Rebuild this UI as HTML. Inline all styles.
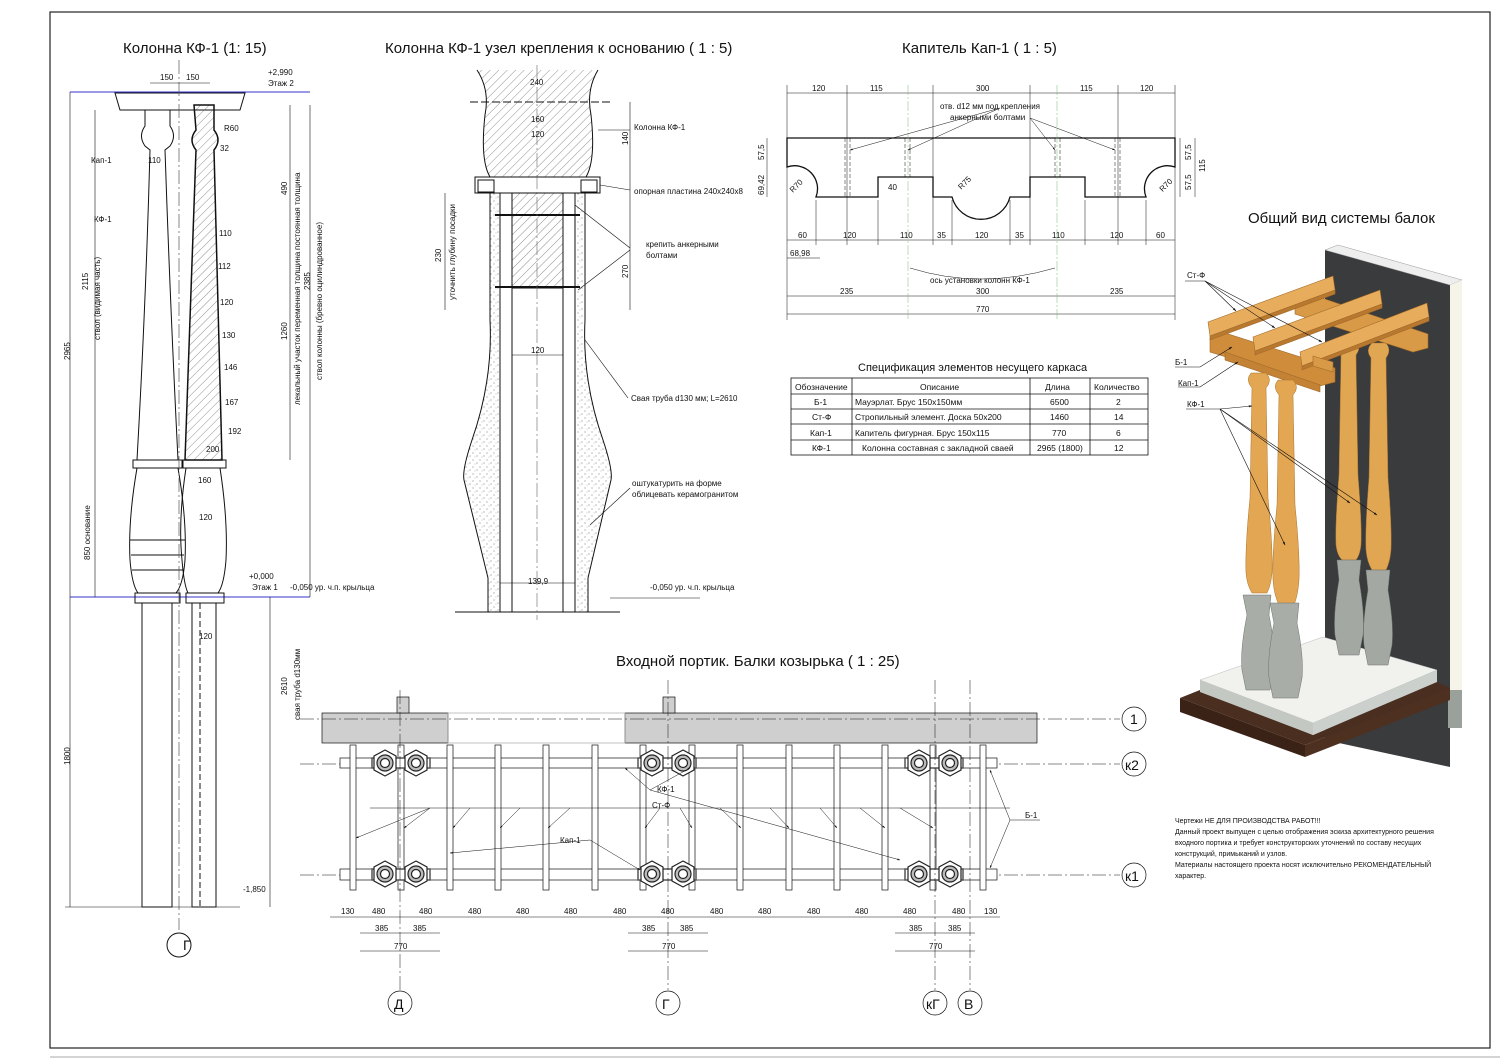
<!DOCTYPE html>
<html><head><meta charset="utf-8"><style>
html,body{margin:0;padding:0;background:#fff}
svg{display:block}
text{font-family:"Liberation Sans",sans-serif;fill:#111}
.t{font-size:15px}
.s{font-size:8px}
.xs{font-size:7px}
</style></head><body>
<svg width="1500" height="1061" viewBox="0 0 1500 1061" xmlns="http://www.w3.org/2000/svg">
<defs>
<pattern id="h" width="6" height="6" patternUnits="userSpaceOnUse" patternTransform="rotate(45)"><line x1="0" y1="0" x2="0" y2="6" stroke="#444" stroke-width="0.6"/></pattern>
<pattern id="d" width="7" height="7" patternUnits="userSpaceOnUse"><circle cx="1" cy="1" r="0.5" fill="#555"/><circle cx="4" cy="5" r="0.5" fill="#555"/><circle cx="6" cy="2" r="0.4" fill="#777"/></pattern>
<marker id="a" viewBox="0 0 10 10" refX="9" refY="5" markerWidth="6" markerHeight="6" orient="auto"><path d="M0,2 L10,5 L0,8z" fill="#111"/></marker>
</defs>
<rect x="50" y="12" width="1440" height="1036" fill="none" stroke="#222" stroke-width="1.2"/>
<line x1="50" y1="1057" x2="1500" y2="1057" stroke="#aaa"/>
<text x="123" y="53" class="t">Колонна КФ-1 (1: 15)</text>
<text x="385" y="53" class="t">Колонна КФ-1 узел крепления к основанию ( 1 : 5)</text>
<text x="902" y="53" class="t">Капитель Кап-1 ( 1 : 5)</text>
<text x="1248" y="223" class="t">Общий вид системы балок</text>
<text x="858" y="371" font-size="11">Спецификация элементов несущего каркаса</text>
<text x="616" y="666" class="t">Входной портик. Балки козырька ( 1 : 25)</text>

<!-- LEFT COLUMN ELEVATION -->
<g stroke="#111" fill="none" stroke-width="1">
<line x1="70" y1="92" x2="310" y2="92" stroke="#33c"/>
<line x1="70" y1="597" x2="310" y2="597" stroke="#33c"/>
<path d="M115,93 H245 L240,110 H120 Z"/>
<path d="M145,110 V126 Q138,136 145,146 L150,150 Q146,300 137,460 H178 Q170,300 165,150 L170,146 Q177,136 170,126 V110"/>
<rect x="133" y="460" width="50" height="8"/>
<path d="M137,468 Q128,520 130,560 Q132,585 138,593 H176 Q183,585 185,560 Q187,520 178,468"/>
<line x1="130" y1="540" x2="185" y2="540"/><line x1="131" y1="555" x2="184" y2="555"/><line x1="132" y1="570" x2="183" y2="570"/>
<rect x="135" y="593" width="45" height="10"/>
<rect x="142" y="603" width="30" height="304"/>
<path d="M194,105 H214 V130 Q222,140 214,150 Q218,300 222,460 H185 Q190,300 196,150 Q188,140 196,130 Z" fill="url(#h)" stroke-width="1.5"/>
<rect x="182" y="460" width="44" height="8"/>
<path d="M186,468 Q178,520 182,560 Q184,585 188,593 H218 Q224,585 226,560 Q228,520 220,468"/>
<rect x="186" y="593" width="38" height="10"/>
<rect x="192" y="603" width="24" height="304"/>
<line x1="200" y1="603" x2="200" y2="907" stroke-dasharray="6,3"/>
<line x1="179" y1="60" x2="179" y2="930" stroke-dasharray="14,3,2,3" stroke="#555" stroke-width="0.7"/>
<circle cx="179" cy="945" r="12"/>
<line x1="70" y1="92" x2="70" y2="907" stroke-width="0.6"/>
<line x1="95" y1="110" x2="95" y2="597" stroke-width="0.6"/>
<line x1="290" y1="105" x2="290" y2="460" stroke-width="0.6"/>
<line x1="310" y1="105" x2="310" y2="597" stroke-width="0.6"/>
<line x1="270" y1="597" x2="270" y2="907" stroke-width="0.6"/>
<line x1="65" y1="907" x2="240" y2="907" stroke-width="0.6"/>
<line x1="150" y1="83" x2="210" y2="83" stroke-width="0.6"/>
</g>
<g class="s">
<text x="160" y="80">150</text><text x="186" y="80">150</text>
<text x="268" y="75">+2,990</text><text x="268" y="86">Этаж 2</text>
<text x="224" y="131">R60</text><text x="220" y="151">32</text>
<text x="148" y="163">110</text>
<text x="91" y="163">Кап-1</text><text x="94" y="222">КФ-1</text>
<text x="219" y="236">110</text><text x="218" y="269">112</text><text x="220" y="305">120</text>
<text x="222" y="338">130</text><text x="224" y="370">146</text><text x="225" y="405">167</text>
<text x="228" y="434">192</text><text x="206" y="452">200</text><text x="198" y="483">160</text>
<text x="199" y="520">120</text><text x="199" y="639">120</text>
<text x="249" y="579">+0,000</text><text x="252" y="590">Этаж 1</text>
<text x="290" y="590">-0,050 ур. ч.п. крыльца</text>
<text x="243" y="892">-1,850</text>
<text x="183" y="950" font-size="14">Г</text>
<text transform="translate(70,360) rotate(-90)">2965</text>
<text transform="translate(88,290) rotate(-90)">2115</text>
<text transform="translate(100,340) rotate(-90)">ствол (видимая часть)</text>
<text transform="translate(90,560) rotate(-90)">850   основание</text>
<text transform="translate(70,765) rotate(-90)">1800</text>
<text transform="translate(287,195) rotate(-90)">490</text>
<text transform="translate(300,250) rotate(-90)">постоянная толщина</text>
<text transform="translate(287,340) rotate(-90)">1260</text>
<text transform="translate(300,405) rotate(-90)">лекальный участок переменная толщина</text>
<text transform="translate(310,290) rotate(-90)">2385</text>
<text transform="translate(322,380) rotate(-90)">ствол колонны (бревно оцилиндрованное)</text>
<text transform="translate(287,695) rotate(-90)">2610</text>
<text transform="translate(300,720) rotate(-90)">свая труба d130мм</text>
</g>

<!-- MIDDLE NODE -->
<g stroke="#111" fill="none" stroke-width="1">
<path d="M477,70 Q490,90 485,115 Q480,160 490,177 H586 Q596,160 591,115 Q586,90 598,70" fill="url(#h)"/>
<line x1="470" y1="102" x2="610" y2="102" stroke-dasharray="8,3"/>
<rect x="475" y="177" width="125" height="16" fill="#fff"/>
<rect x="478" y="180" width="16" height="12"/><rect x="581" y="180" width="16" height="12"/>
<path d="M490,193 V320 Q493,380 472,440 Q462,470 464,480 L488,578 V612 H500 V193 Z" fill="url(#d)"/>
<path d="M585,193 V320 Q582,380 603,440 Q613,470 611,480 L588,578 V612 H575 V193 Z" fill="url(#d)"/>
<rect x="500" y="193" width="12" height="419"/><rect x="563" y="193" width="12" height="419"/>
<rect x="512" y="193" width="51" height="95" fill="url(#h)"/>
<line x1="495" y1="215" x2="580" y2="215" stroke-width="2"/><line x1="495" y1="287" x2="580" y2="287" stroke-width="2"/>
<line x1="455" y1="612" x2="620" y2="612"/>
<line x1="537" y1="65" x2="537" y2="620" stroke-dasharray="14,3,2,3" stroke="#666" stroke-width="0.6"/>
<line x1="512" y1="355" x2="563" y2="355" stroke-width="0.6"/>
<line x1="500" y1="583" x2="575" y2="583" stroke-width="0.6"/>
<line x1="630" y1="102" x2="630" y2="310" stroke-width="0.6"/>
<line x1="445" y1="193" x2="445" y2="310" stroke-width="0.6"/>
<line x1="598" y1="130" x2="630" y2="130" stroke-width="0.6"/>
<line x1="600" y1="185" x2="630" y2="190" stroke-width="0.6"/>
<line x1="575" y1="205" x2="630" y2="248" stroke-width="0.6"/>
<line x1="578" y1="290" x2="630" y2="250" stroke-width="0.6"/>
<line x1="585" y1="340" x2="628" y2="398" stroke-width="0.6"/>
<line x1="590" y1="525" x2="630" y2="488" stroke-width="0.6"/>
<line x1="610" y1="598" x2="700" y2="598" stroke-width="0.6"/>
</g>
<g class="s">
<text x="530" y="85">240</text><text x="531" y="122">160</text><text x="531" y="137">120</text>
<text x="634" y="130">Колонна КФ-1</text>
<text x="634" y="194">опорная пластина 240х240х8</text>
<text x="646" y="247">крепить анкерными</text><text x="646" y="258">болтами</text>
<text x="531" y="353">120</text>
<text x="631" y="401">Свая труба d130 мм; L=2610</text>
<text x="632" y="486">оштукатурить на форме</text><text x="632" y="497">облицевать керамогранитом</text>
<text x="528" y="584">139,9</text>
<text x="650" y="590">-0,050 ур. ч.п. крыльца</text>
<text transform="translate(441,262) rotate(-90)">230</text>
<text transform="translate(455,300) rotate(-90)">уточнить глубину посадки</text>
<text transform="translate(628,145) rotate(-90)">140</text>
<text transform="translate(628,278) rotate(-90)">270</text>
</g>

<!-- CAPITAL -->
<g stroke="#111" fill="none" stroke-width="1.3">
<path d="M787,138 H1175 V167 A23,23 0 0 0 1146,197 H1085 V177 H1030 V197 H1010 A30,30 0 0 1 952,197 H933 V177 H878 V197 H816 A23,23 0 0 0 787,167 Z"/>
</g>
<g stroke="#111" fill="none" stroke-width="0.5">
<line x1="787" y1="93" x2="1175" y2="93"/><line x1="787" y1="240" x2="1175" y2="240"/>
<line x1="787" y1="296" x2="1175" y2="296"/><line x1="787" y1="314" x2="1175" y2="314"/>
<line x1="787" y1="85" x2="787" y2="320"/><line x1="1175" y1="85" x2="1175" y2="320"/>
<g stroke="#7b7" stroke-dasharray="10,2,2,2"><line x1="908" y1="85" x2="908" y2="320"/><line x1="1057" y1="85" x2="1057" y2="320"/></g>
<g stroke-dasharray="4,2"><line x1="845" y1="138" x2="845" y2="197"/><line x1="850" y1="138" x2="850" y2="197"/><line x1="905" y1="138" x2="905" y2="177"/><line x1="910" y1="138" x2="910" y2="177"/><line x1="1055" y1="138" x2="1055" y2="177"/><line x1="1060" y1="138" x2="1060" y2="177"/><line x1="1115" y1="138" x2="1115" y2="197"/><line x1="1120" y1="138" x2="1120" y2="197"/></g>
<line x1="847" y1="85" x2="847" y2="245"/><line x1="933" y1="85" x2="933" y2="245"/><line x1="1030" y1="85" x2="1030" y2="245"/><line x1="1118" y1="85" x2="1118" y2="245"/><line x1="816" y1="200" x2="816" y2="245"/><line x1="878" y1="200" x2="878" y2="245"/><line x1="952" y1="200" x2="952" y2="245"/><line x1="1010" y1="200" x2="1010" y2="245"/><line x1="1085" y1="200" x2="1085" y2="245"/><line x1="1146" y1="200" x2="1146" y2="245"/>
<line x1="767" y1="138" x2="767" y2="197"/><line x1="1195" y1="138" x2="1195" y2="197"/><line x1="1180" y1="138" x2="1180" y2="197"/>
<line x1="787" y1="258" x2="820" y2="258"/>
<line x1="1000" y1="108" x2="850" y2="150" marker-end="url(#a)"/><line x1="1000" y1="108" x2="908" y2="150" marker-end="url(#a)"/>
<line x1="1030" y1="118" x2="1055" y2="150" marker-end="url(#a)"/><line x1="1030" y1="118" x2="1115" y2="150" marker-end="url(#a)"/>
<path d="M910,268 Q980,290 1055,268"/>
</g>
<g class="s">
<text x="812" y="91">120</text><text x="870" y="91">115</text><text x="976" y="91">300</text><text x="1080" y="91">115</text><text x="1140" y="91">120</text>
<text x="940" y="109">отв. d12 мм под крепления</text><text x="950" y="120">анкерными болтами</text>
<text x="798" y="238">60</text><text x="843" y="238">120</text><text x="900" y="238">110</text><text x="937" y="238">35</text><text x="975" y="238">120</text><text x="1015" y="238">35</text><text x="1052" y="238">110</text><text x="1110" y="238">120</text><text x="1156" y="238">60</text>
<text x="790" y="256">68,98</text>
<text x="930" y="283">ось установки колонн КФ-1</text>
<text x="840" y="294">235</text><text x="976" y="294">300</text><text x="1110" y="294">235</text>
<text x="976" y="312">770</text>
<text x="888" y="190">40</text><text x="958" y="188" transform="rotate(-45 962 185)">R75</text>
<text x="790" y="190" transform="rotate(-45 795 188)">R70</text><text x="1160" y="190" transform="rotate(-45 1164 188)">R70</text>
<text transform="translate(764,160) rotate(-90)">57,5</text><text transform="translate(764,195) rotate(-90)">69,42</text>
<text transform="translate(1191,160) rotate(-90)">57,5</text><text transform="translate(1191,190) rotate(-90)">57,5</text><text transform="translate(1205,172) rotate(-90)">115</text>
</g>

<!-- TABLE -->
<g stroke="#111" fill="none" stroke-width="0.8">
<rect x="791" y="378" width="357" height="77"/>
<line x1="791" y1="394" x2="1148" y2="394"/><line x1="791" y1="409" x2="1148" y2="409"/><line x1="791" y1="424" x2="1148" y2="424"/><line x1="791" y1="440" x2="1148" y2="440"/>
<line x1="852" y1="378" x2="852" y2="455"/><line x1="1030" y1="378" x2="1030" y2="455"/><line x1="1090" y1="378" x2="1090" y2="455"/>
</g>
<g font-size="8.5">
<text x="795" y="390">Обозначение</text><text x="920" y="390">Описание</text><text x="1045" y="390">Длина</text><text x="1094" y="390">Количество</text>
<text x="814" y="405">Б-1</text><text x="855" y="405">Мауэрлат. Брус 150х150мм</text><text x="1050" y="405">6500</text><text x="1116" y="405">2</text>
<text x="812" y="420">Ст-Ф</text><text x="855" y="420">Стропильный элемент. Доска 50х200</text><text x="1050" y="420">1460</text><text x="1114" y="420">14</text>
<text x="810" y="436">Кап-1</text><text x="855" y="436">Капитель фигурная. Брус 150х115</text><text x="1052" y="436">770</text><text x="1116" y="436">6</text>
<text x="812" y="451">КФ-1</text><text x="862" y="451">Колонна составная с закладной сваей</text><text x="1037" y="451">2965 (1800)</text><text x="1114" y="451">12</text>
</g>

<!-- 3D VIEW -->
<g>
<polygon points="1325,250 1450,285 1450,767 1325,740" fill="#3a3b3d"/>
<polygon points="1325,250 1338,245 1462,280 1450,285" fill="#eee" stroke="#999" stroke-width="0.5"/>
<polygon points="1450,285 1462,280 1462,690 1450,690" fill="#f6f3e8"/>
<rect x="1448" y="690" width="14" height="38" fill="#9aa09a"/>
<!-- base -->
<polygon points="1180,698 1200,690 1313,735 1437,682 1450,688 1305,745" fill="#4a2e1f"/>
<polygon points="1180,698 1305,745 1305,757 1180,712" fill="#3a2216"/>
<polygon points="1305,745 1450,688 1450,700 1305,757" fill="#4d3020"/>
<polygon points="1200,680 1323,637 1437,670 1313,723" fill="#f1f1ee" stroke="#bbb" stroke-width="0.5"/>
<polygon points="1200,680 1313,723 1313,735 1200,692" fill="#c3c8c3"/>
<polygon points="1313,723 1437,670 1437,682 1313,735" fill="#ccd0cc"/>
<!-- back columns -->
<g fill="#e0a652" stroke="#a8742e" stroke-width="0.5">
<path d="M1342,340 h14 q6,7 0,15 l2,120 q4,50 3,70 q-1,10 -5,15 h-14 q-5,-5 -6,-15 q-1,-20 3,-70 l2,-120 q-6,-8 1,-15z"/>
<path d="M1372,343 h14 q6,7 0,15 l2,120 q4,50 3,72 q-1,12 -5,20 h-14 q-5,-8 -6,-20 q-1,-22 3,-72 l2,-120 q-6,-8 1,-15z"/>
</g>
<g fill="#a3a8a3" stroke="#6e736e" stroke-width="0.5">
<path d="M1337,560 h24 l-2,20 q6,35 4,55 l-4,20 h-20 l-4,-20 q-2,-20 4,-55z"/>
<path d="M1366,570 h24 l-2,20 q6,35 4,55 l-4,20 h-20 l-4,-20 q-2,-20 4,-55z"/>
</g>
<!-- beams -->
<g stroke="#a06a28" stroke-width="0.6">
<polygon points="1295,300 1310,294 1428,334 1428,348 1413,352 1295,314" fill="#d99a48"/>
<polygon points="1210,338 1225,333 1335,368 1335,382 1320,386 1210,352" fill="#cf8c3a"/>
<polygon points="1225,352 1320,385 1320,392 1225,360" fill="#c48234"/>
<polygon points="1208,322 1333,276 1335,290 1210,336" fill="#e8ad5c"/>
<polygon points="1210,336 1335,290 1335,294 1210,340" fill="#b9782f"/>
<polygon points="1253,337 1380,290 1382,304 1255,351" fill="#e8ad5c"/>
<polygon points="1255,351 1382,304 1382,308 1255,355" fill="#b9782f"/>
<polygon points="1300,352 1427,303 1429,317 1302,366" fill="#e8ad5c"/>
<polygon points="1302,366 1429,317 1429,321 1302,370" fill="#b9782f"/>
<polygon points="1313,356 1333,362 1333,372 1313,366" fill="#d99a48"/>
</g>
<!-- front columns -->
<g fill="#e3a653" stroke="#a8742e" stroke-width="0.5">
<path d="M1251,373 h15 q7,7 0,15 l2,110 q5,50 4,75 q-1,12 -5,20 h-15 q-5,-8 -6,-20 q-1,-25 4,-75 l2,-110 q-7,-8 -1,-15z"/>
<path d="M1278,380 h15 q7,7 0,15 l2,110 q5,50 4,75 q-1,15 -5,25 h-15 q-5,-10 -6,-25 q-1,-25 4,-75 l2,-110 q-7,-8 -1,-15z"/>
</g>
<g fill="#a8ada8" stroke="#6e736e" stroke-width="0.5">
<path d="M1243,595 h28 l-2,20 q7,35 5,55 l-4,20 h-24 l-4,-20 q-2,-20 5,-55z"/>
<path d="M1270,603 h29 l-2,20 q7,35 5,55 l-4,20 h-25 l-4,-20 q-2,-20 5,-55z"/>
</g>
<g stroke="#111" stroke-width="0.6" fill="none">
<path d="M1185,281 H1205"/><line x1="1205" y1="281" x2="1236" y2="311" marker-end="url(#a)"/><line x1="1205" y1="281" x2="1275" y2="328" marker-end="url(#a)"/><line x1="1205" y1="281" x2="1322" y2="342" marker-end="url(#a)"/>
<path d="M1175,367 H1200 L1232,347" marker-end="url(#a)"/>
<path d="M1178,387 H1200 L1238,362" marker-end="url(#a)"/>
<path d="M1186,409 H1220"/><line x1="1220" y1="409" x2="1252" y2="406" marker-end="url(#a)"/><line x1="1220" y1="409" x2="1285" y2="545" marker-end="url(#a)"/><line x1="1220" y1="409" x2="1350" y2="503" marker-end="url(#a)"/><line x1="1220" y1="409" x2="1377" y2="515" marker-end="url(#a)"/>
</g>
<g class="s"><text x="1187" y="278">Ст-Ф</text><text x="1175" y="365">Б-1</text><text x="1178" y="386">Кап-1</text><text x="1187" y="407">КФ-1</text></g>
</g>

<g class="xs">
<text x="1175" y="823">Чертежи НЕ ДЛЯ ПРОИЗВОДСТВА РАБОТ!!!</text>
<text x="1175" y="834">Данный проект выпущен с целью отображения эскиза архитектурного решения</text>
<text x="1175" y="845">входного портика и требует конструкторских уточнений по составу несущих</text>
<text x="1175" y="856">конструкций, примыканий и узлов.</text>
<text x="1175" y="867">Материалы настоящего проекта носят исключительно РЕКОМЕНДАТЕЛЬНЫЙ</text>
<text x="1175" y="878">характер.</text>
</g>

<!-- PLAN -->
<g stroke="#111" stroke-width="0.7" fill="none">
<rect x="322" y="713" width="126" height="30" fill="#cfcfcf"/>
<rect x="625" y="713" width="412" height="30" fill="#cfcfcf"/>
<rect x="448" y="713" width="177" height="30" stroke="#aaa"/>
<rect x="397" y="697" width="12" height="16" fill="#cfcfcf"/><rect x="663" y="697" width="12" height="16" fill="#cfcfcf"/>
<line x1="300" y1="719" x2="1120" y2="719" stroke-dasharray="14,3,2,3" stroke-width="0.5"/>
<line x1="300" y1="764" x2="1120" y2="764" stroke-dasharray="14,3,2,3" stroke-width="0.5"/>
<line x1="300" y1="875" x2="1120" y2="875" stroke-dasharray="14,3,2,3" stroke-width="0.5"/>
<rect x="340" y="758" width="657" height="10" fill="#fff"/>
<rect x="340" y="869" width="657" height="11" fill="#fff"/>
<g fill="#fff">
<rect x="350" y="745" width="6" height="145"/><rect x="398" y="745" width="6" height="145"/><rect x="447" y="745" width="6" height="145"/><rect x="495" y="745" width="6" height="145"/><rect x="543" y="745" width="6" height="145"/><rect x="592" y="745" width="6" height="145"/><rect x="640" y="745" width="6" height="145"/><rect x="689" y="745" width="6" height="145"/><rect x="737" y="745" width="6" height="145"/><rect x="786" y="745" width="6" height="145"/><rect x="834" y="745" width="6" height="145"/><rect x="882" y="745" width="6" height="145"/><rect x="930" y="745" width="6" height="145"/><rect x="980" y="745" width="6" height="145"/>
</g>
<g stroke="#555" stroke-width="1.5" fill="#fff">
<rect x="372" y="758" width="58" height="10"/><rect x="638" y="758" width="58" height="10"/><rect x="905" y="758" width="58" height="10"/>
<rect x="372" y="869" width="58" height="11"/><rect x="638" y="869" width="58" height="11"/><rect x="905" y="869" width="58" height="11"/>
</g>
<g id="hx" fill="#fff" stroke="#222" stroke-width="1.2">
<polygon points="385,750 396,756 396,770 385,776 374,770 374,756"/><circle cx="385" cy="763" r="8" fill="#bbb"/><circle cx="385" cy="763" r="4.5" fill="#fff"/>
<polygon points="416,750 427,756 427,770 416,776 405,770 405,756"/><circle cx="416" cy="763" r="8" fill="#bbb"/><circle cx="416" cy="763" r="4.5" fill="#fff"/>
</g>
<use href="#hx" x="267"/><use href="#hx" x="534"/>
<use href="#hx" y="111"/><use href="#hx" x="267" y="111"/><use href="#hx" x="534" y="111"/>
<g stroke-dasharray="14,3,2,3" stroke-width="0.5">
<line x1="400" y1="690" x2="400" y2="990"/><line x1="668" y1="680" x2="668" y2="990"/><line x1="935" y1="680" x2="935" y2="990"/><line x1="970" y1="680" x2="970" y2="990"/>
</g>
<line x1="330" y1="917" x2="1000" y2="917" stroke-width="0.5"/>
<line x1="360" y1="933" x2="440" y2="933" stroke-width="0.5"/><line x1="628" y1="933" x2="708" y2="933" stroke-width="0.5"/><line x1="895" y1="933" x2="975" y2="933" stroke-width="0.5"/>
<line x1="360" y1="951" x2="440" y2="951" stroke-width="0.5"/><line x1="628" y1="951" x2="708" y2="951" stroke-width="0.5"/><line x1="895" y1="951" x2="975" y2="951" stroke-width="0.5"/>
<circle cx="400" cy="1003" r="12"/><circle cx="668" cy="1003" r="12"/><circle cx="935" cy="1003" r="12"/><circle cx="970" cy="1003" r="12"/>
<circle cx="1134" cy="719" r="12"/><circle cx="1134" cy="764" r="12"/><circle cx="1134" cy="875" r="12"/>
<g stroke-width="0.5">
<line x1="370" y1="808" x2="1010" y2="808"/>
<line x1="430" y1="808" x2="356" y2="838" marker-end="url(#a)"/><line x1="430" y1="808" x2="404" y2="828" marker-end="url(#a)"/><line x1="470" y1="808" x2="453" y2="828" marker-end="url(#a)"/><line x1="520" y1="808" x2="500" y2="828" marker-end="url(#a)"/><line x1="570" y1="808" x2="548" y2="828" marker-end="url(#a)"/><line x1="660" y1="808" x2="645" y2="828" marker-end="url(#a)"/><line x1="680" y1="808" x2="692" y2="828" marker-end="url(#a)"/><line x1="720" y1="808" x2="741" y2="828" marker-end="url(#a)"/><line x1="770" y1="808" x2="789" y2="828" marker-end="url(#a)"/><line x1="820" y1="808" x2="837" y2="828" marker-end="url(#a)"/><line x1="860" y1="808" x2="885" y2="828" marker-end="url(#a)"/><line x1="900" y1="808" x2="933" y2="828" marker-end="url(#a)"/>
<path d="M590,840 L450,853" marker-end="url(#a)"/><path d="M590,840 L640,870" marker-end="url(#a)"/>
<path d="M1040,820 H1010 L990,770" marker-end="url(#a)"/><path d="M1010,820 L990,868" marker-end="url(#a)"/>
<path d="M650,790 L625,768" marker-end="url(#a)"/><path d="M650,790 L690,768" marker-end="url(#a)"/><path d="M650,790 L900,860" marker-end="url(#a)"/>
</g>
</g>
<g class="s">
<text x="341" y="914">130</text><text x="372" y="914">480</text><text x="419" y="914">480</text><text x="468" y="914">480</text><text x="516" y="914">480</text><text x="564" y="914">480</text><text x="613" y="914">480</text><text x="661" y="914">480</text><text x="710" y="914">480</text><text x="758" y="914">480</text><text x="807" y="914">480</text><text x="855" y="914">480</text><text x="903" y="914">480</text><text x="952" y="914">480</text><text x="984" y="914">130</text>
<text x="375" y="931">385</text><text x="413" y="931">385</text><text x="642" y="931">385</text><text x="680" y="931">385</text><text x="909" y="931">385</text><text x="948" y="931">385</text>
<text x="394" y="949">770</text><text x="662" y="949">770</text><text x="929" y="949">770</text>
<text x="657" y="792">КФ-1</text><text x="652" y="808">Ст-Ф</text><text x="560" y="843">Кап-1</text><text x="1025" y="818">Б-1</text>
</g>
<g font-size="14"><text x="394" y="1009">Д</text><text x="662" y="1009">Г</text><text x="926" y="1009">кГ</text><text x="964" y="1009">В</text>
<text x="1130" y="724">1</text><text x="1125" y="770">к2</text><text x="1125" y="881">к1</text></g>
</svg>
</body></html>
